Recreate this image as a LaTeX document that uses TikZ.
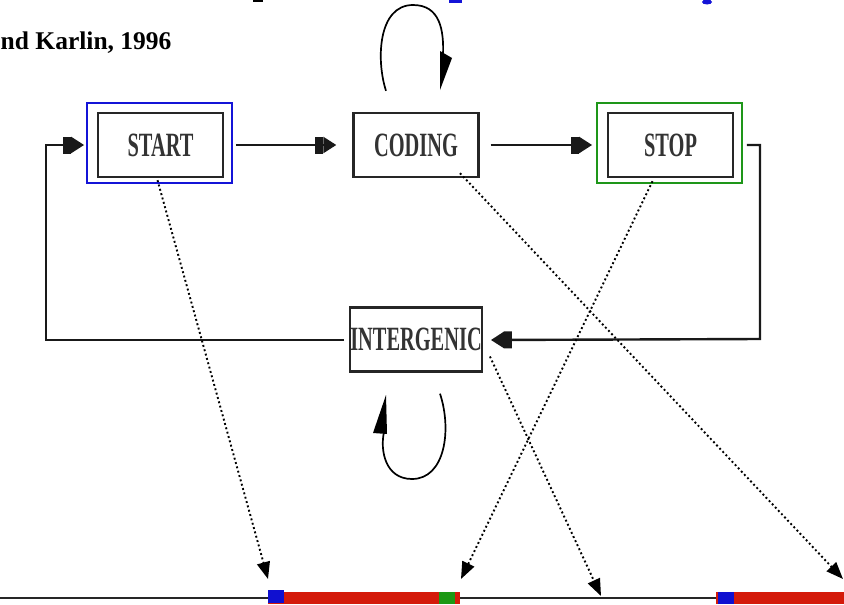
\documentclass[tikz,border=0pt]{standalone}
\usepackage{fontspec}
\usetikzlibrary{arrows.meta}
\newfontfamily\statefont[FakeStretch=0.6]{Liberation Serif}
\newfontfamily\citefont{Liberation Serif}
\definecolor{boxblue}{RGB}{20,20,215}
\definecolor{boxgreen}{RGB}{30,150,25}
\definecolor{barred}{RGB}{212,26,10}
\definecolor{sqblue}{RGB}{16,16,208}
\definecolor{sqgreen}{RGB}{28,152,20}
\tikzset{
  statebox/.style={draw=black!85, line width=2.4pt, minimum width=125pt, minimum height=64pt,
    inner sep=0pt, text=black!80, font=\statefont\bfseries\fontsize{34}{34}\selectfont},
  outbox/.style={draw=#1, line width=1.8pt, minimum width=145pt, minimum height=80pt, inner sep=0pt},
  flow/.style={line width=2.4pt, draw=black!90,
    -{Rectangle[length=8pt,width=17pt,sep=0pt]Triangle[length=13pt,width=16pt]}},
  mapto/.style={line width=1.9pt, dash pattern=on 1.9pt off 2.6pt,
    -{Triangle[length=17pt,width=13pt]}},
  loopline/.style={line width=1.7pt, draw=black},
}
\begin{document}
\begin{tikzpicture}[x=1pt,y=-1pt]
\useasboundingbox (0,0) rectangle (844,605);
% citation
\node[anchor=base west, inner sep=0pt, font=\citefont\bfseries\fontsize{25.5}{25.5}\selectfont] (cite) at (0.5,49) {nd Karlin, 1996};
% title fragments
\fill[black] (253,0) rectangle (263,2);
\fill[boxblue] (449,0) rectangle (462,3);
\fill[boxblue] (707,2) ellipse (5pt and 2.5pt);
% state boxes
\node[outbox=boxblue] (startout) at (159.5,143) {};
\node[statebox] (start) at (160.5,145) {START};
\node[statebox] (coding) at (416,145) {CODING};
\node[outbox=boxgreen] (stopout) at (669.5,143) {};
\node[statebox] (stop) at (670.5,145) {STOP};
\node[statebox] (inter) at (416,339.5) {INTERGENIC};
% solid transitions
\draw[flow] ([xshift=3pt]startout.east |- start.center) -- ([xshift=-16pt]coding.west);
\draw[flow] ([xshift=11pt]coding.east) -- ([xshift=-4pt]stopout.west |- stop.center);
\draw[flow] ([xshift=4pt]stopout.east |- stop.center) -| (760,339) -- ([xshift=8pt,yshift=-0.5pt]inter.east);
\draw[flow] ([xshift=-5pt,yshift=-0.5pt]inter.west) -| (46,145) -- ([xshift=-2pt]startout.west |- start.center);
% self loop on CODING
\draw[loopline] ([shift={(-30,-21)}]coding.north) .. controls (376,60) and (378,5) .. (413,5)
   .. controls (440,5) and (444,30) .. (443,55);
\fill[black] (440,51) -- (452,58) -- (440,90) -- cycle;
% self loop on INTERGENIC
\draw[loopline] ([shift={(24,21)}]inter.south) .. controls (452,430) and (445,479) .. (412,479)
   .. controls (385,479) and (380,450) .. (384,432);
\fill[black] (373,433) -- (386,395) -- (387,434) -- cycle;
% genome strip
\draw[line width=1.4pt, black!85] (0,598) -- (844,598);
\fill[barred] (268,592) rectangle (460,604);
\fill[barred] (716,592) rectangle (844,604);
\fill[sqblue] (268,590) rectangle (284,603);
\fill[sqgreen] (439,592) rectangle (455,604);
\fill[sqblue] (718,592) rectangle (734,604);
\coordinate (g1) at (268,579);
\coordinate (g2) at (461,579);
\coordinate (g3) at (601,596);
\coordinate (g4) at (843,579);
% mapping arrows
\draw[mapto] ([shift={(-3,2)}]start.south) -- (g1);
\draw[mapto] ([shift={(-18,3)}]stop.south) -- (g2);
\draw[mapto] ([shift={(7,17)}]inter.east) -- (g3);
\draw[mapto] ([shift={(44,-5)}]coding.south) -- (g4);
\end{tikzpicture}
\end{document}
